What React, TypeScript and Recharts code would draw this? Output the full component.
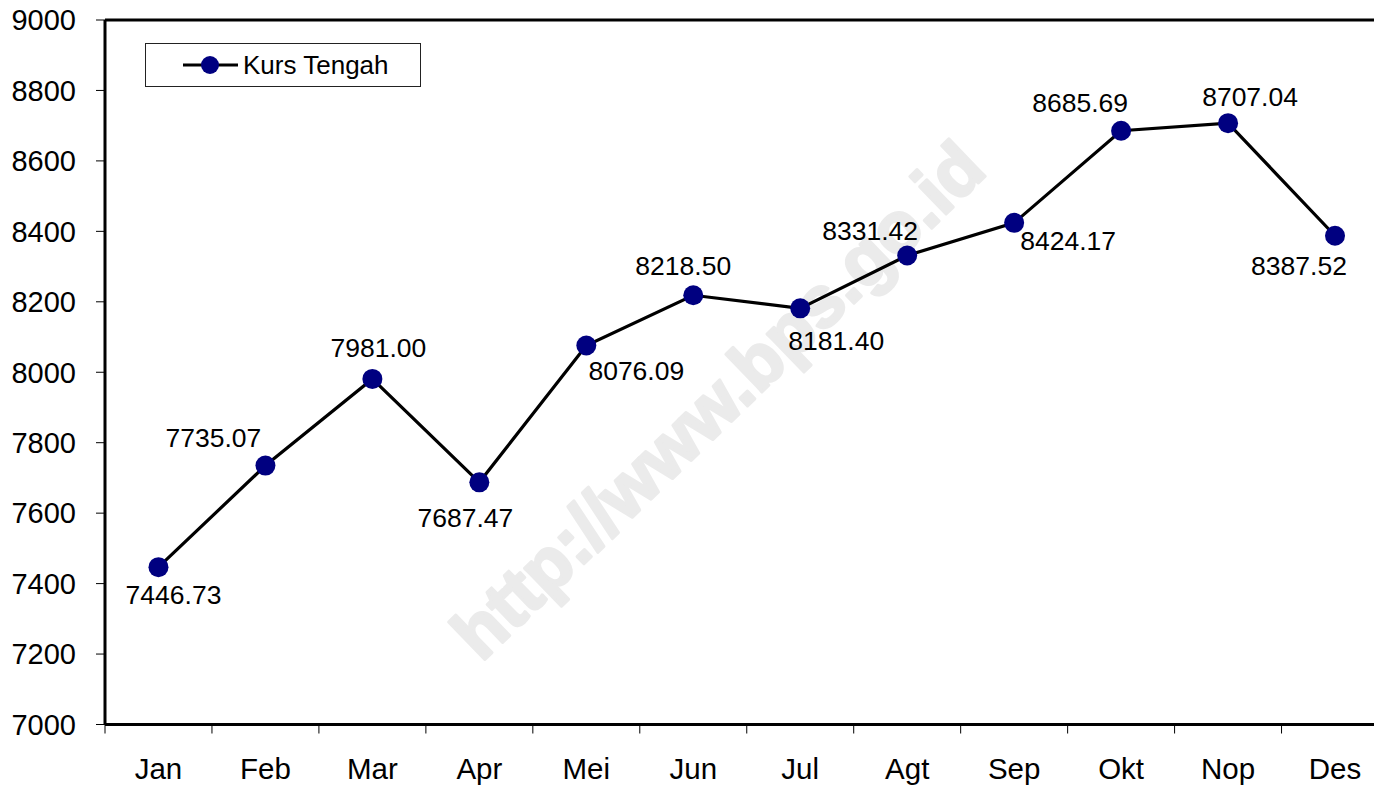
import React from 'react';
import { LineChart, Line, XAxis, YAxis, ReferenceLine } from 'recharts';

const months = ['Jan', 'Feb', 'Mar', 'Apr', 'Mei', 'Jun', 'Jul', 'Agt', 'Sep', 'Okt', 'Nop', 'Des'];
const kursTengah = [7446.73, 7735.07, 7981.0, 7687.47, 8076.09, 8218.5, 8181.4, 8331.42, 8424.17, 8685.69, 8707.04, 8387.52];
const yTicks = [7000, 7200, 7400, 7600, 7800, 8000, 8200, 8400, 8600, 8800, 9000];
const seriesName = 'Kurs Tengah';
const watermark = 'http://www.bps.go.id';

const data = months.map((m, i) => ({ month: m, value: kursTengah[i] }));

// label offsets (style) relative to each point
const labelOffsets: [number, number][] = [
  [15, 27], [-52, -28], [6, -31], [-14, 35], [50, 25], [-10, -30],
  [36, 32], [-37, -25], [54, 18], [-41, -28], [22, -27], [-36, 30],
];

const FONT = '"Liberation Sans", Arial, sans-serif';

const PointLabel = (props: any) => {
  const { x, y, index, value } = props;
  const [dx, dy] = labelOffsets[index] || [0, -25];
  return (
    <text x={x + dx} y={y + dy} dy="0.36em" textAnchor="middle" fontSize={26.5} fontFamily={FONT} fill="#000">
      {Number(value).toFixed(2)}
    </text>
  );
};

const XTick = (props: any) => {
  const { x, y, payload } = props;
  const off = payload && typeof payload.offset === 'number' ? payload.offset : 0;
  return (
    <g>
      <line x1={x - off} x2={x - off} y1={y - 9} y2={y} stroke="#000" strokeWidth={1} />
      <text x={x} y={y + 45.5} textAnchor="middle" fontSize={29.5} fontFamily={FONT} fill="#000">
        {payload.value}
      </text>
    </g>
  );
};

const LegendBox = () => (
  <div
    style={{
      position: 'absolute',
      left: 145,
      top: 43,
      width: 276,
      height: 44,
      boxSizing: 'border-box',
      border: '1px solid #222',
      background: '#fff',
    }}
  >
    <svg width={276} height={44} style={{ position: 'absolute', left: -1, top: -1 }}>
      <line x1={38} x2={93} y1={22} y2={22} stroke="#000" strokeWidth={3} />
      <circle cx={65} cy={22} r={9} fill="#000080" />
      <text x={98} y={31} fontSize={26} fontFamily={FONT} fill="#000">
        {seriesName}
      </text>
    </svg>
  </div>
);

export default function App() {
  return (
    <div style={{ position: 'absolute', left: 0, top: 0, width: 1374, height: 788, overflow: 'hidden', background: '#fff' }}>
      <svg width={1374} height={788} style={{ position: 'absolute', left: 0, top: 0 }}>
        <text
          x={735}
          y={418}
          textAnchor="middle"
          fontSize={72}
          fontWeight="bold"
          fontFamily={FONT}
          fill="#ebebeb"
          stroke="#ebebeb"
          strokeWidth={3}
          strokeLinejoin="round"
          transform="rotate(-44 735 418)"
        >
          {watermark}
        </text>
      </svg>
      <div style={{ position: 'absolute', left: 0, top: 0 }}>
        <LineChart width={1400} height={788} data={data} margin={{ top: 20, right: 11.5, bottom: 0, left: 0 }}>
          <XAxis
            dataKey="month"
            scale="band"
            height={63.5}
            tickLine={false}
            tickSize={9}
            tickMargin={0}
            axisLine={{ stroke: '#000', strokeWidth: 3 }}
            tick={<XTick />}
            interval={0}
          />
          <YAxis
            type="number"
            domain={[7000, 9000]}
            ticks={yTicks}
            width={105}
            tickSize={9}
            tickMargin={20}
            axisLine={{ stroke: '#000', strokeWidth: 3 }}
            tickLine={{ stroke: '#000', strokeWidth: 1 }}
            tick={{ fontSize: 29, fontFamily: FONT, fill: '#000' }}
            interval={0}
          />
          <ReferenceLine y={9000} stroke="#000" strokeWidth={3} />
          <Line
            type="linear"
            dataKey="value"
            name={seriesName}
            stroke="#000"
            strokeWidth={3.2}
            dot={{ r: 10, fill: '#000080', stroke: 'none' }}
            activeDot={false}
            label={<PointLabel />}
            isAnimationActive={false}
          />
        </LineChart>
      </div>
      <LegendBox />
    </div>
  );
}
